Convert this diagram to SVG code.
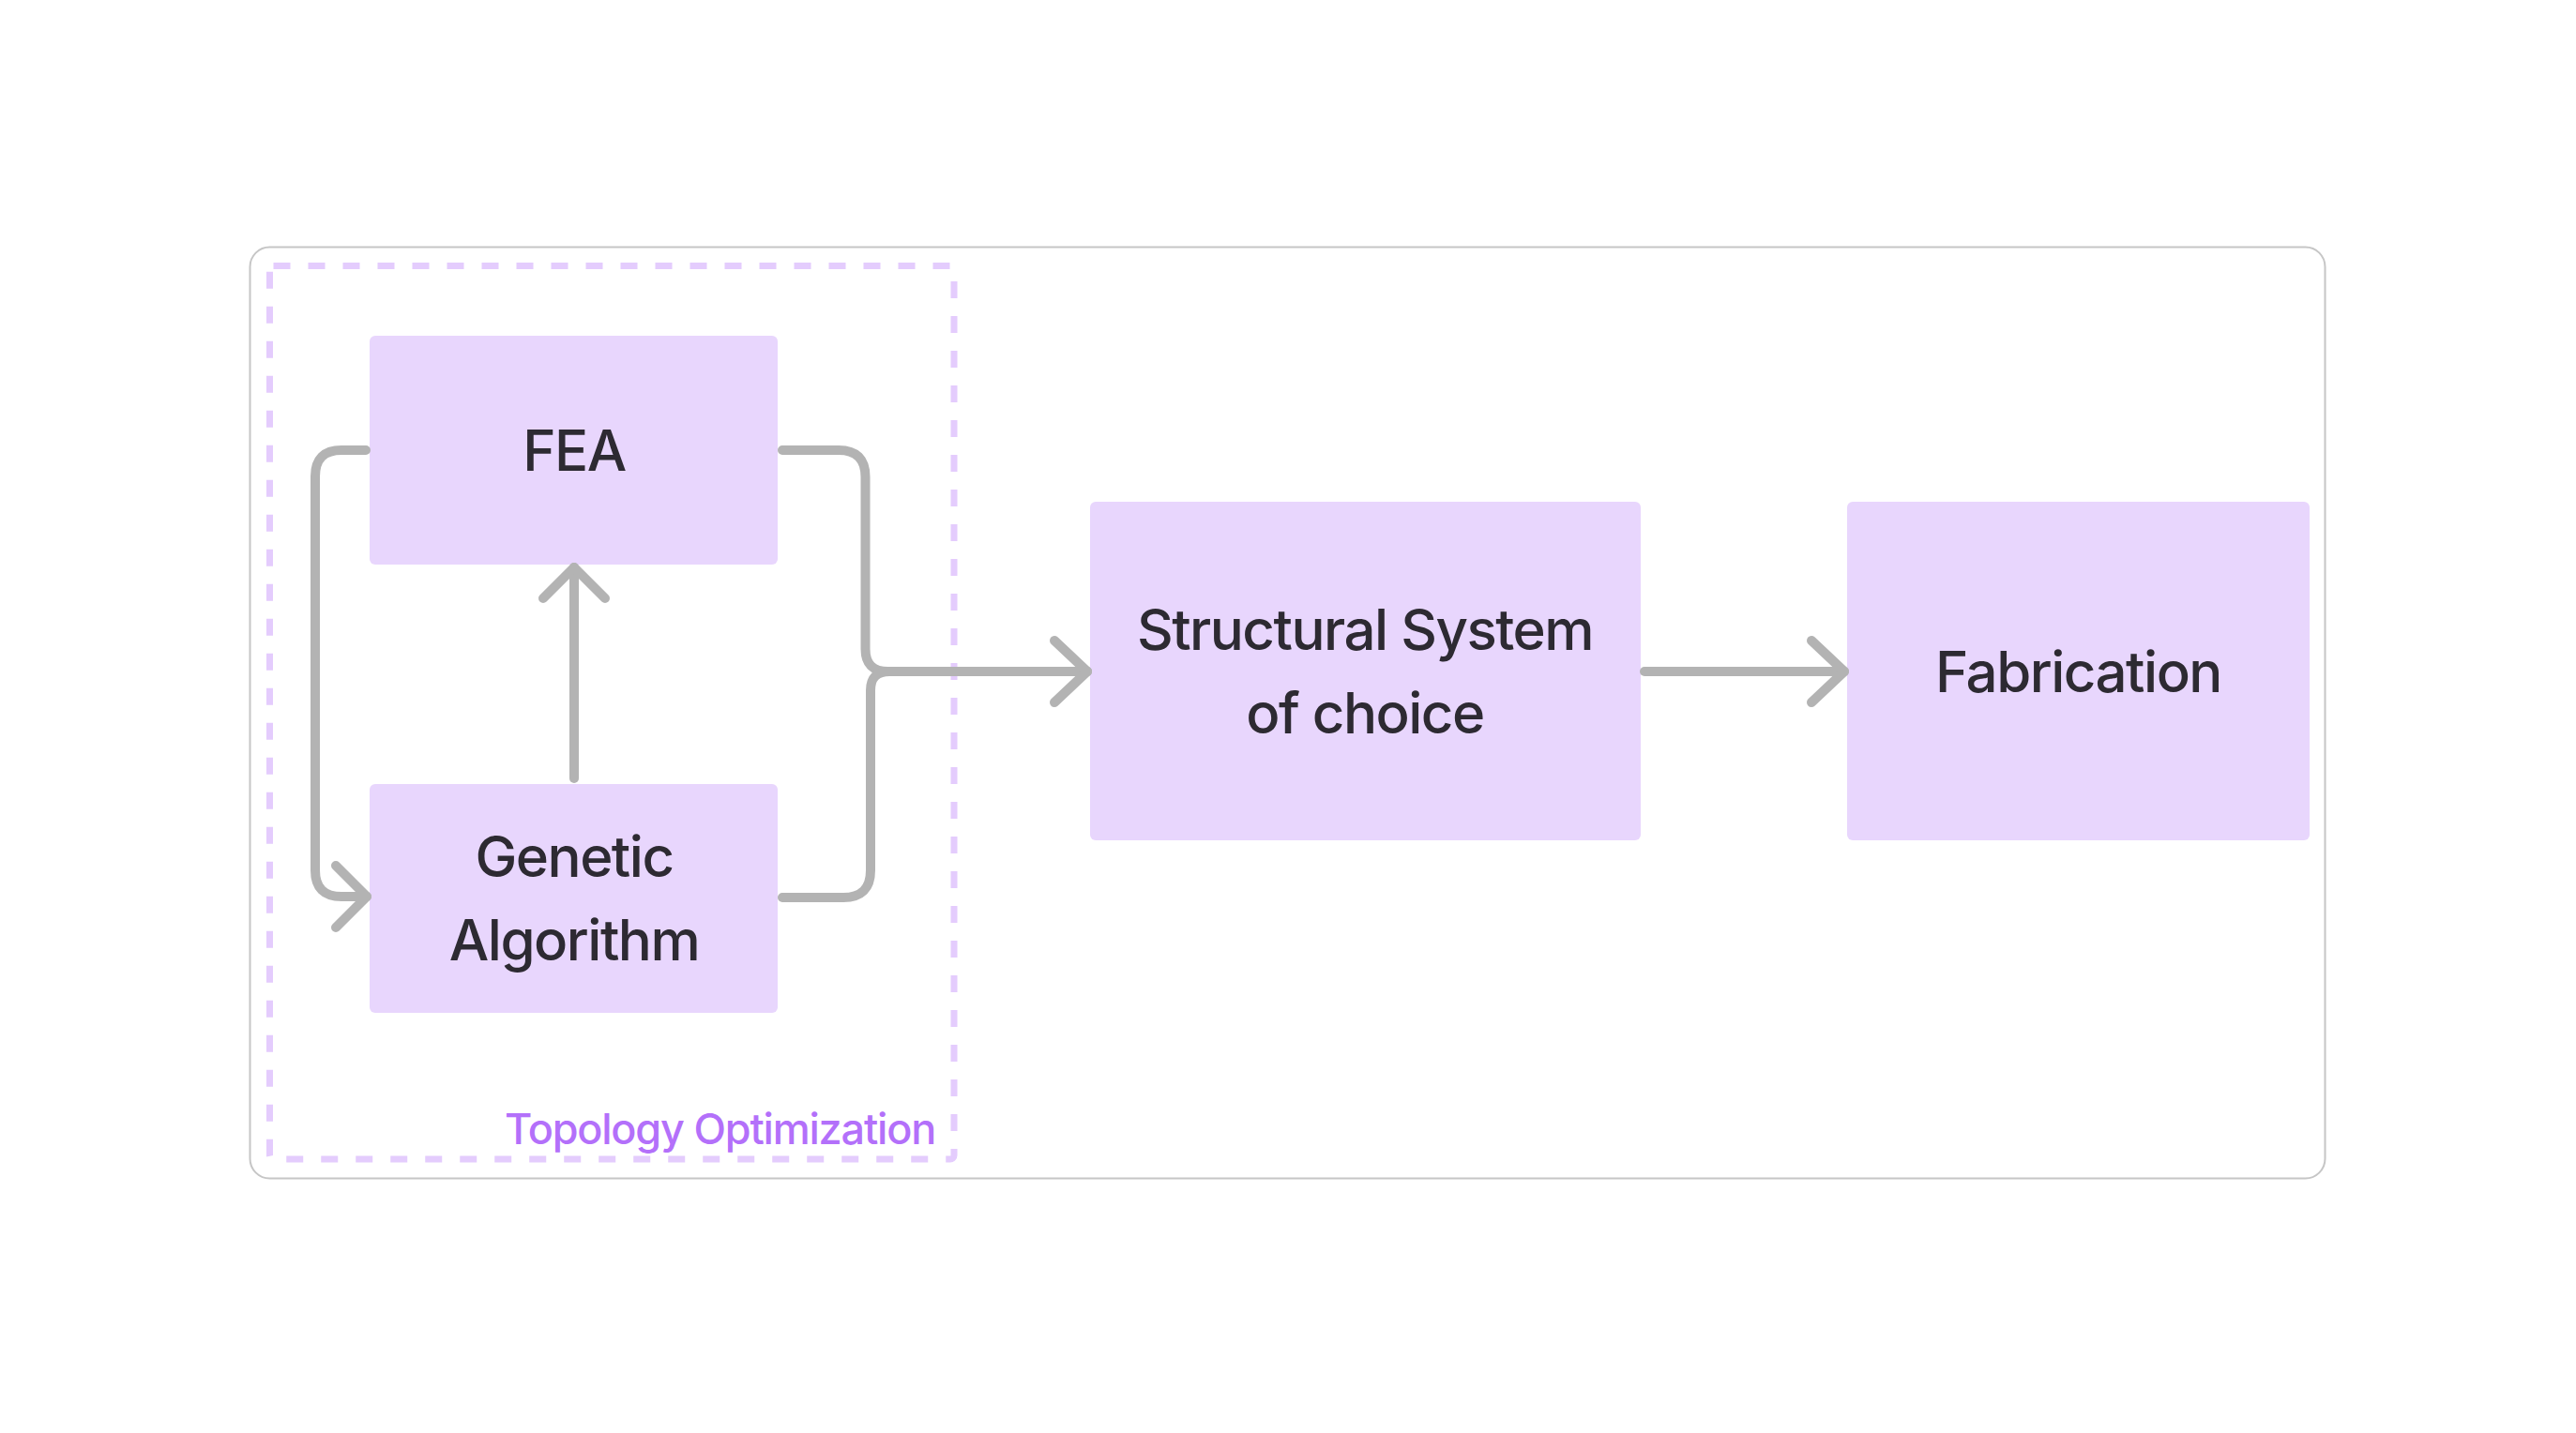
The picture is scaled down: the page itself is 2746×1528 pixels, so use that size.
<svg xmlns="http://www.w3.org/2000/svg" width="2746" height="1528" viewBox="0 0 2746 1528">
<style>
.box{fill:#E8D6FD;}
.label{font-family:Inter,"Noto Sans","Liberation Sans",sans-serif;font-size:60px;font-weight:500;letter-spacing:-1.5px;fill:#2D2A32;text-anchor:middle;}
.conn{fill:none;stroke:#B3B3B3;stroke-width:10;stroke-linecap:round;stroke-linejoin:round;}
</style>
<rect width="2746" height="1528" fill="#FFFFFF"/>
<g id="frame">
<rect x="266.5" y="263.5" width="2212" height="993" rx="21" fill="#FFFFFF" stroke="#C6C6C6" stroke-width="2"/>
</g>
<g id="topology-optimization">
<rect x="287.5" y="283.5" width="729.5" height="952.5" rx="4" fill="none" stroke="#E4CCFD" stroke-width="7" stroke-dasharray="18 19"/>
<text x="997" y="1220" font-family="Inter, 'Noto Sans', 'Liberation Sans', sans-serif" font-size="45" font-weight="500" letter-spacing="-1.2" fill="#B370FA" text-anchor="end">Topology Optimization</text>
</g>
<g id="node-fea">
<rect class="box" x="394" y="358" width="435" height="244" rx="6"/>
<text class="label" x="612" y="502">FEA</text>
</g>
<g id="node-ga">
<rect class="box" x="394" y="836" width="435" height="244" rx="6"/>
<text class="label" x="612" y="935">Genetic</text>
<text class="label" x="612" y="1024">Algorithm</text>
</g>
<g id="node-structural">
<rect class="box" x="1162" y="535" width="587" height="361" rx="6"/>
<text class="label" x="1455" y="693">Structural System</text>
<text class="label" x="1455" y="782">of choice</text>
</g>
<g id="node-fabrication">
<rect class="box" x="1969" y="535" width="493" height="361" rx="6"/>
<text class="label" x="2215.5" y="738">Fabrication</text>
</g>
<g id="connectors">
<path class="conn" d="M 390 480 H 364 Q 336 480 336 508 V 928 Q 336 956 364 956 H 391"/>
<path class="conn" d="M 358 923 L 391 956 L 358 989"/>
<path class="conn" d="M 834 480 H 894 Q 922.5 480 922.5 508.5 V 692 Q 922.5 716 946.5 716 H 1159"/>
<path class="conn" d="M 834 957 H 899 Q 928 957 928 928 V 736 Q 928 716 948 716 H 1159"/>
<path class="conn" d="M 1124 683 L 1159 716 L 1124 749"/>
<path class="conn" d="M 612 830 V 605"/>
<path class="conn" d="M 579 638 L 612 605 L 645 638"/>
<path class="conn" d="M 1753 716 H 1966"/>
<path class="conn" d="M 1931 683 L 1966 716 L 1931 749"/>
</g>
</svg>
